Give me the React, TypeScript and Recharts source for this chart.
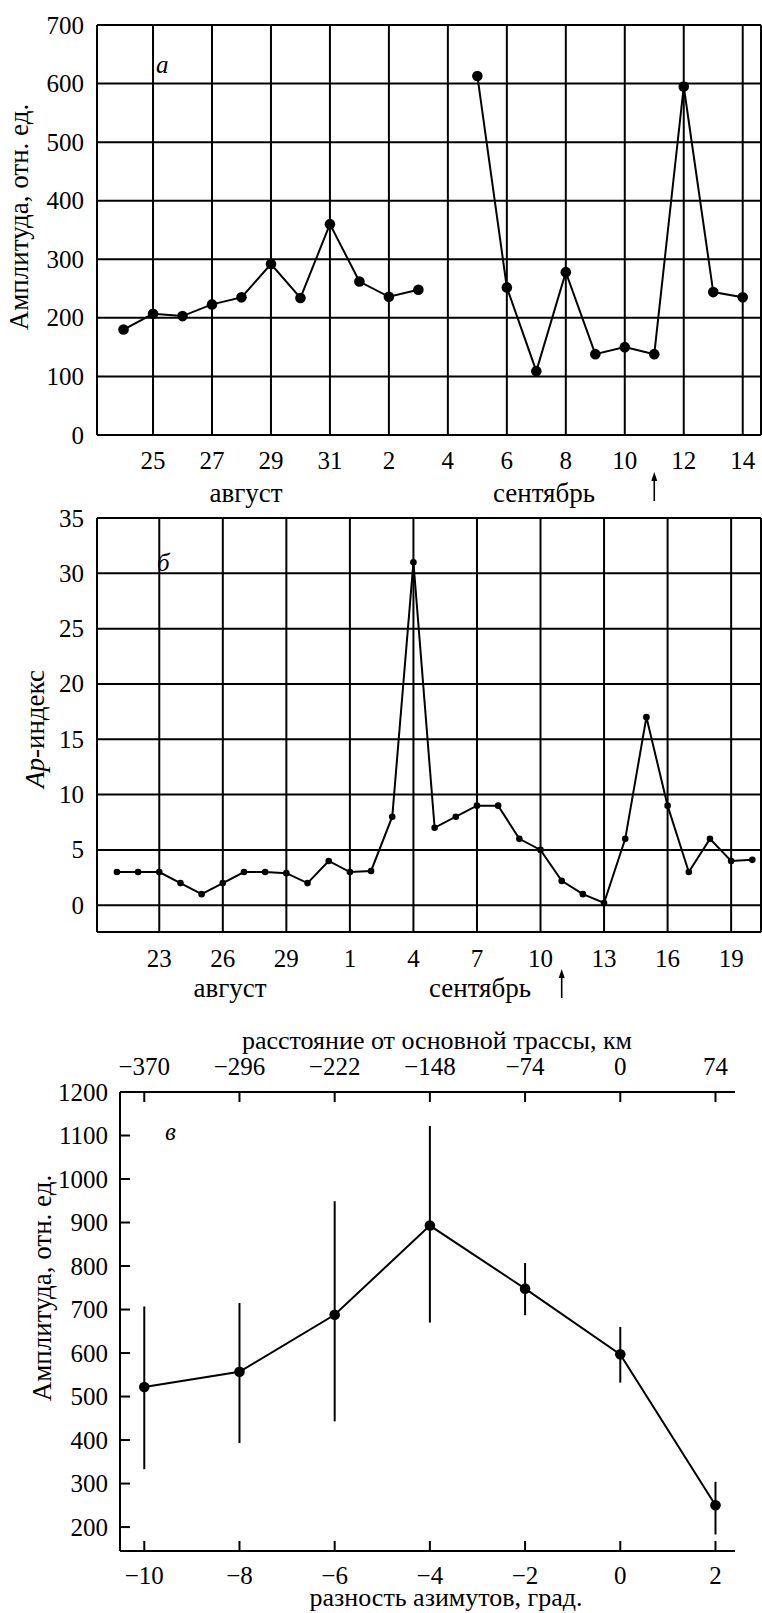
import React from "react";
import {
  LineChart, Line, XAxis, YAxis, CartesianGrid, ReferenceLine, ErrorBar,
} from "recharts";

// день считается от 1 августа: 1 сентября = 32
const aDays = [24, 25, 26, 27, 28, 29, 30, 31, 32, 33, 34, 35, 36, 37, 38, 39, 40, 41, 42, 43, 44, 45];
const aAmp = [180, 207, 203, 223, 235, 292, 234, 360, 262, 236, 248, null, 613, 252, 109, 278, 138, 150, 138, 595, 244, 235];
const aTicks = [25, 27, 29, 31, 33, 35, 37, 39, 41, 43, 45];
const aTickLabels = ["25", "27", "29", "31", "2", "4", "6", "8", "10", "12", "14"];
const aYTicks = [0, 100, 200, 300, 400, 500, 600, 700];

const bDays = [21, 22, 23, 24, 25, 26, 27, 28, 29, 30, 31, 32, 33, 34, 35, 36, 37, 38, 39, 40, 41, 42, 43, 44, 45, 46, 47, 48, 49, 50, 51];
const bAp = [3, 3, 3, 2, 1, 2, 3, 3, 2.9, 2, 4, 3, 3.1, 8, 31, 7, 8, 9, 9, 6, 5, 2.2, 1, 0.2, 6, 17, 9, 3, 6, 4, 4.1];
const bTicks = [23, 26, 29, 32, 35, 38, 41, 44, 47, 50];
const bTickLabels = ["23", "26", "29", "1", "4", "7", "10", "13", "16", "19"];
const bYTicks = [0, 5, 10, 15, 20, 25, 30, 35];

const markDay = 42; // 11 сентября, стрелка

const cAz = [-10, -8, -6, -4, -2, 0, 2];
const cAmp = [522, 557, 688, 893, 748, 597, 250];
const cLow = [333, 393, 443, 670, 687, 532, 183];
const cHigh = [707, 715, 949, 1122, 807, 660, 304];
const cAzLabels = ["\u221210", "\u22128", "\u22126", "\u22124", "\u22122", "0", "2"];
const cKmLabels = ["\u2212370", "\u2212296", "\u2212222", "\u2212148", "\u221274", "0", "74"];
const cYTicks = [200, 300, 400, 500, 600, 700, 800, 900, 1000, 1100, 1200];

const aData = aDays.map((day, i) => ({ day, amp: aAmp[i] }));
const bData = bDays.map((day, i) => ({ day, ap: bAp[i] }));
const cData = cAz.map((az, i) => ({ az, amp: cAmp[i], err: [cAmp[i] - cLow[i], cHigh[i] - cAmp[i]] }));

const FONT = '"Liberation Serif", "Times New Roman", serif';
const T = { fontFamily: FONT, fontSize: 25, fill: "#000" };
const TT = { fontFamily: FONT, fontSize: 27, fill: "#000" };
const axisLine = { stroke: "#000", strokeWidth: 2 };

const bottomTick = (ticks: number[], labels: string[], dy: number, inner = 0) => (p: any) => (
  <g>
    {inner > 0 && <line x1={p.x} y1={p.y} x2={p.x} y2={p.y - inner} stroke="#000" strokeWidth={2} />}
    <text x={p.x} y={p.y + dy} textAnchor="middle" dominantBaseline="central" {...T}>
      {labels[ticks.indexOf(p.payload.value)]}
    </text>
  </g>
);

const topTick = (ticks: number[], labels: string[], dy: number, inner = 0) => (p: any) => (
  <g>
    {inner > 0 && <line x1={p.x} y1={p.y} x2={p.x} y2={p.y + inner} stroke="#000" strokeWidth={2} />}
    <text x={p.x} y={p.y - dy} textAnchor="middle" dominantBaseline="central" {...T}>
      {labels[ticks.indexOf(p.payload.value)]}
    </text>
  </g>
);

const leftTick = (gap: number, inner = 0) => (p: any) => (
  <g>
    {inner > 0 && <line x1={p.x} y1={p.y} x2={p.x + inner} y2={p.y} stroke="#000" strokeWidth={2} />}
    <text x={p.x - gap} y={p.y} textAnchor="end" dominantBaseline="central" {...T}>
      {p.payload.value}
    </text>
  </g>
);

// стрелка под осью в день отметки
const arrow = (p: any) => {
  const x = p.x1;
  const y0 = Math.max(p.y1, p.y2);
  return (
    <g>
      <line x1={x} y1={y0 + 44} x2={x} y2={y0 + 66} stroke="#000" strokeWidth={1.6} />
      <polygon points={`${x},${y0 + 37} ${x - 3},${y0 + 46} ${x + 3},${y0 + 46}`} fill="#000" />
    </g>
  );
};

export default function App() {
  return (
    <div style={{ position: "absolute", left: 0, top: 0, width: 762, height: 1613, background: "#fff" }}>
      <div style={{ position: "absolute", left: 0, top: 0 }}>
        <LineChart width={762} height={520} data={aData} margin={{ top: 25, right: 1, bottom: 55, left: 57 }}>
          <CartesianGrid stroke="#000" strokeWidth={2} />
          <XAxis dataKey="day" type="number" domain={[23.1, 45.62]} ticks={aTicks} interval={0}
            height={30} tickSize={0} tickMargin={0} axisLine={axisLine} tickLine={false}
            tick={bottomTick(aTicks, aTickLabels, 25)} allowDataOverflow />
          <YAxis type="number" domain={[0, 700]} ticks={aYTicks} interval={0} width={40}
            tickSize={0} tickMargin={0} axisLine={axisLine} tickLine={false} tick={leftTick(13)} />
          <YAxis yAxisId="r" orientation="right" width={0} tick={false} axisLine={axisLine} tickLine={false} />
          <ReferenceLine x={markDay} stroke="none" shape={arrow} />
          <Line dataKey="amp" type="linear" stroke="#000" strokeWidth={2} connectNulls={false}
            dot={{ r: 5.3, fill: "#000", stroke: "none" }} activeDot={false} isAnimationActive={false} />
        </LineChart>
      </div>

      <div style={{ position: "absolute", left: 0, top: 500 }}>
        <LineChart width={762} height={520} data={bData} margin={{ top: 18, right: 1, bottom: 58, left: 57 }}>
          <CartesianGrid stroke="#000" strokeWidth={2} />
          <XAxis dataKey="day" type="number" domain={[20.06, 51.41]} ticks={bTicks} interval={0}
            height={30} tickSize={0} tickMargin={0} axisLine={axisLine} tickLine={false}
            tick={bottomTick(bTicks, bTickLabels, 26)} allowDataOverflow />
          <YAxis type="number" domain={[-2.42, 35]} ticks={bYTicks} interval={0} width={40}
            tickSize={0} tickMargin={0} axisLine={axisLine} tickLine={false} tick={leftTick(13)} allowDataOverflow />
          <YAxis yAxisId="r" orientation="right" width={0} tick={false} axisLine={axisLine} tickLine={false} />
          <ReferenceLine x={markDay} stroke="none" shape={arrow} />
          <Line dataKey="ap" type="linear" stroke="#000" strokeWidth={2}
            dot={{ r: 3.3, fill: "#000", stroke: "none" }} activeDot={false} isAnimationActive={false} />
        </LineChart>
      </div>

      <div style={{ position: "absolute", left: 0, top: 1010 }}>
        <LineChart width={762} height={603} data={cData} margin={{ top: 52, right: 27, bottom: 32, left: 80 }}>
          <XAxis dataKey="az" type="number" domain={[-10.51, 2.41]} ticks={cAz} interval={0}
            height={30} tickSize={0} tickMargin={0} axisLine={axisLine} tickLine={false}
            tick={bottomTick(cAz, cAzLabels, 24, 10)} allowDataOverflow />
          <XAxis xAxisId="top" dataKey="az" orientation="top" type="number" domain={[-10.51, 2.41]} ticks={cAz} interval={0}
            height={30} tickSize={0} tickMargin={0} axisLine={axisLine} tickLine={false}
            tick={topTick(cAz, cKmLabels, 26, 10)} allowDataOverflow />
          <YAxis type="number" domain={[145, 1200]} ticks={cYTicks} interval={0} width={40}
            tickSize={0} tickMargin={0} axisLine={axisLine} tickLine={false} tick={leftTick(12, 10)} allowDataOverflow />
          <Line dataKey="amp" type="linear" stroke="#000" strokeWidth={2}
            dot={{ r: 5.3, fill: "#000", stroke: "none" }} activeDot={false} isAnimationActive={false}>
            <ErrorBar dataKey="err" direction="y" width={0} stroke="#000" strokeWidth={2} />
          </Line>
        </LineChart>
      </div>

      <svg width={762} height={1613} style={{ position: "absolute", left: 0, top: 0, pointerEvents: "none" }}>
        <text {...TT} x={28} y={217} textAnchor="middle" transform="rotate(-90 28 217)">Амплитуда, отн. ед.</text>
        <text {...TT} x={246} y={493} textAnchor="middle" dominantBaseline="central">август</text>
        <text {...TT} x={544} y={493} textAnchor="middle" dominantBaseline="central">сентябрь</text>
        <text {...T} x={156} y={73} fontStyle="italic">а</text>

        <text {...TT} x={44} y={729} textAnchor="middle" transform="rotate(-90 44 729)">
          <tspan fontStyle="italic">Ap</tspan>-индекс
        </text>
        <text {...TT} x={230} y={988} textAnchor="middle" dominantBaseline="central">август</text>
        <text {...TT} x={480} y={988} textAnchor="middle" dominantBaseline="central">сентябрь</text>
        <text {...T} x={157} y={571} fontStyle="italic">б</text>

        <text {...TT} fontSize={26} x={437} y={1040} textAnchor="middle" dominantBaseline="central">расстояние от основной трассы, км</text>
        <text {...T} x={165} y={1140} fontStyle="italic">в</text>
        <text {...TT} x={51} y={1288} textAnchor="middle" transform="rotate(-90 51 1288)">Амплитуда, отн. ед.</text>
        <text {...TT} fontSize={26} x={446} y={1597} textAnchor="middle" dominantBaseline="central">разность азимутов, град.</text>
      </svg>
    </div>
  );
}
